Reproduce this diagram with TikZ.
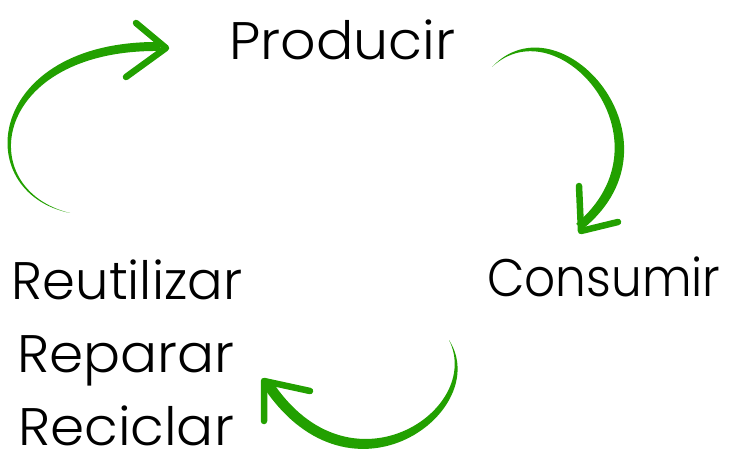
\documentclass[tikz,border=0pt]{standalone}
\usepackage{fontspec}
\setmainfont{Poppins Light}
\definecolor{verde}{RGB}{34,160,0}
\tikzset{
  cuerpo/.style={fill=verde},
  punta/.style={draw=verde,line width=6.5bp,line cap=round,line join=round},
  palabra/.style={font=\fontsize{53}{60}\selectfont,inner sep=0pt}
}

\begin{document}
\begin{tikzpicture}[line cap=round,line join=round,x=1bp,y=-1bp]
	\useasboundingbox (0,0) rectangle (736,450);
	% textos
	\node[palabra,anchor=base west] (producir) at (229,60) {\scalebox{1.05}[1]{Producir}};
	\node[palabra,anchor=base west] (consumir) at (487,297) {\scalebox{0.92}[1]{Consumir}};
	\node[palabra,anchor=base] (reutilizar) at (127,300) {Reutilizar};
	\node[palabra,anchor=base] (reparar) at (126,372) {\scalebox{1.04}[1]{Reparar}};
	\node[palabra,anchor=base] (reciclar) at (126,445) {\scalebox{1.04}[1]{Reciclar}};
	% flecha izquierda
	\fill[cuerpo] (70,213) .. controls (-32,192) and (-14,40) .. (160,42)
		-- (160,51) .. controls (-8,49) and (-28,189) .. (70,213) -- cycle;
	\draw[punta] (136,23) -- (166,48) -- (126,77);
	% flecha derecha
	\fill[cuerpo] (492,67) .. controls (560,-5) and (690,140) .. (584,228)
		-- (576,224) .. controls (676,140) and (558,5) .. (492,67) -- cycle;
	\draw[punta] (579,186) -- (581,231) -- (618,222);
	% flecha de abajo
	\fill[cuerpo] (449,340) .. controls (494,410) and (352,518) .. (264,388)
		-- (272,381) .. controls (350,500) and (484,410) .. (449,340) -- cycle;
	\draw[punta] (264,421) -- (264,381) -- (310,391);
\end{tikzpicture}
\end{document}
